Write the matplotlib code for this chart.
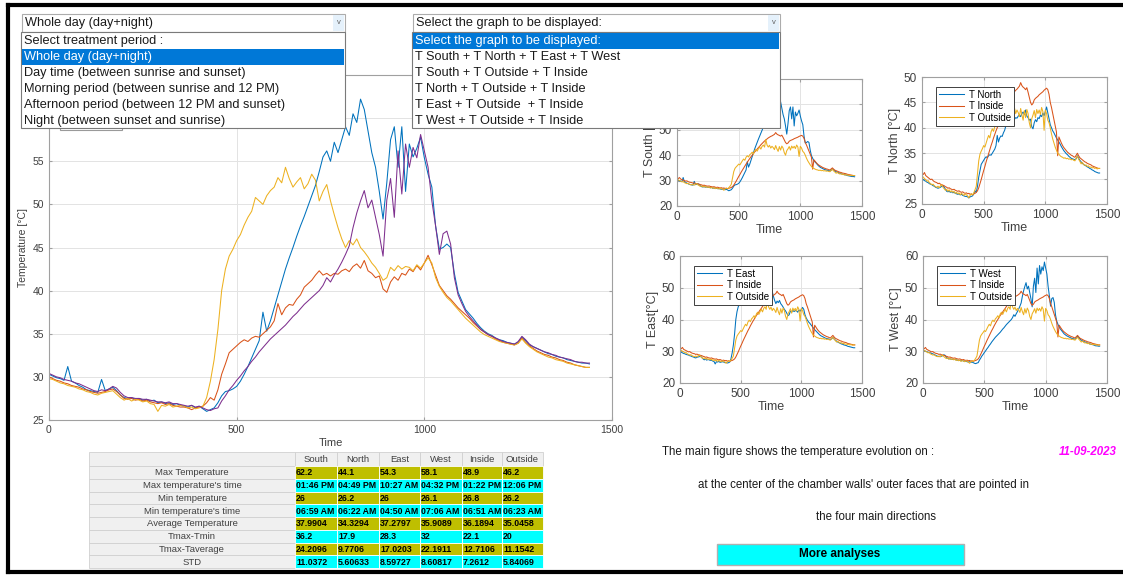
import numpy as np
import matplotlib
matplotlib.use('Agg')
import matplotlib.pyplot as plt
from matplotlib.patches import Rectangle

plt.rcParams['font.family'] = ['Liberation Sans', 'DejaVu Sans']

# Relevés toutes les 10 minutes (0 .. 1440 min)
time = np.arange(0, 1441, 10)

t_south = [
    30.3, 30.1, 29.9, 29.8, 29.6, 31.2, 29.5, 29.3, 29.0, 28.8, 28.5, 28.4,
    28.3, 28.2, 29.7, 28.4, 28.6, 28.8, 28.4, 27.9, 27.6, 27.5, 27.6, 27.4,
    27.5, 27.3, 27.4, 27.2, 27.3, 27.0, 27.1, 26.9, 27.0, 26.8, 26.9, 26.7,
    26.6, 26.5, 26.7, 26.4, 26.6, 26.3, 26.0, 26.2, 26.4, 27.0, 27.8, 28.3,
    28.4, 28.6, 28.9, 29.5, 30.3, 31.2, 32.2, 33.2, 34.2, 37.5, 35.3, 36.5,
    38.0, 39.5, 41.0, 42.5, 43.8, 45.0, 46.3, 47.5, 48.6, 49.8, 51.0, 52.2,
    53.8, 55.5, 56.2, 55.0, 57.2, 56.0, 57.5, 59.0, 58.0, 60.5, 59.5, 62.2,
    61.0, 58.5, 56.0, 54.3, 51.5, 48.3, 52.5, 57.5, 59.0, 54.3, 59.0, 51.5,
    57.0, 55.5, 56.5, 57.8, 55.4, 53.5, 52.0, 47.5, 44.8, 45.0, 45.4, 45.0,
    42.0, 39.8, 38.8, 37.8, 37.3, 36.8, 36.2, 35.7, 35.3, 35.0, 34.8, 34.5,
    34.3, 34.2, 34.0, 33.9, 33.8, 34.0, 34.6, 34.2, 33.7, 33.5, 33.3, 33.1,
    32.9, 32.7, 32.6, 32.4, 32.3, 32.2, 32.0, 31.9, 31.8, 31.7, 31.6, 31.6,
    31.5]

t_north = [
    30.0, 29.8, 29.6, 29.5, 29.3, 29.2, 29.0, 28.9, 28.8, 28.6, 28.5, 28.3,
    28.2, 28.1, 28.2, 28.3, 28.5, 28.6, 28.3, 27.9, 27.5, 27.4, 27.5, 27.3,
    27.4, 27.2, 27.3, 27.1, 27.0, 26.9, 27.0, 26.8, 26.9, 26.7, 26.6, 26.5,
    26.5, 26.4, 26.2, 26.4, 26.5, 26.6, 27.0, 27.6, 27.3, 28.5, 30.3, 31.5,
    32.8, 33.2, 33.6, 34.0, 34.3, 34.1, 34.5, 34.7, 34.6, 35.0, 35.4, 35.8,
    36.5, 38.5, 37.2, 38.0, 38.4, 38.3, 39.0, 39.5, 40.4, 40.8, 41.2, 41.8,
    42.3, 41.8, 42.0, 41.7, 42.0, 41.9, 42.3, 42.5, 42.2, 42.8, 43.1, 42.6,
    43.5, 42.3, 42.0, 41.5, 41.7, 40.2, 39.8, 41.0, 41.6, 41.2, 42.0, 41.8,
    42.5, 42.2, 42.9, 42.4, 43.2, 44.1, 43.0, 41.8, 40.6, 40.0, 39.4, 39.0,
    38.5, 38.0, 37.6, 37.2, 36.8, 36.3, 35.9, 35.5, 35.2, 34.9, 34.7, 34.4,
    34.2, 34.0, 33.9, 33.8, 33.7, 33.9, 34.5, 34.0, 33.6, 33.3, 33.0, 32.8,
    32.6, 32.5, 32.3, 32.2, 32.0, 31.9, 31.7, 31.6, 31.4, 31.3, 31.2, 31.1,
    31.1]

t_east = [
    29.8, 29.7, 29.5, 29.3, 29.2, 29.0, 28.9, 28.8, 28.6, 28.5, 28.3, 28.2,
    28.0, 27.9, 28.1, 28.2, 28.3, 28.4, 28.0, 27.6, 27.3, 27.5, 27.2, 27.4,
    27.3, 27.1, 27.2, 26.9, 26.8, 26.0, 26.7, 26.6, 26.8, 26.5, 26.6, 26.7,
    26.6, 26.4, 26.5, 26.3, 26.4, 26.6, 27.6, 29.5, 32.0, 35.5, 40.0, 42.5,
    44.0, 44.8, 45.8, 46.5, 47.6, 48.5, 49.2, 50.8, 50.4, 50.0, 51.0, 51.6,
    52.0, 53.1, 52.5, 54.3, 53.0, 52.0, 52.6, 53.1, 51.8, 52.4, 53.5, 52.8,
    50.4, 51.5, 52.3, 50.4, 48.8, 47.3, 46.0, 45.0, 45.8, 45.3, 46.0, 45.0,
    44.5, 43.9, 43.2, 42.7, 42.0, 41.2, 41.5, 42.7, 42.3, 42.9, 42.5, 42.8,
    42.7, 42.3, 43.0, 42.6, 43.2, 43.8, 43.2, 41.5, 40.5, 39.8, 39.2, 38.8,
    38.3, 37.8, 37.3, 36.8, 36.4, 36.0, 35.6, 35.2, 34.9, 34.7, 34.5, 34.3,
    34.1, 34.0, 33.9, 33.8, 33.7, 33.9, 34.4, 33.9, 33.5, 33.2, 32.9, 32.7,
    32.5, 32.3, 32.2, 32.0, 31.9, 31.8, 31.6, 31.5, 31.4, 31.3, 31.2, 31.1,
    31.1]

t_west = [
    30.4, 30.2, 30.0, 29.9, 29.7, 29.6, 29.5, 29.3, 29.2, 29.0, 28.8, 28.6,
    28.4, 28.3, 28.5, 28.4, 28.6, 28.9, 28.7, 28.2, 27.8, 27.6, 27.6, 27.5,
    27.5, 27.4, 27.4, 27.3, 27.2, 27.1, 27.1, 27.0, 27.1, 26.9, 26.9, 26.8,
    26.7, 26.6, 26.7, 26.5, 26.6, 26.4, 26.2, 26.1, 26.3, 26.4, 27.2, 27.8,
    28.5, 29.0, 29.6, 30.1, 30.7, 31.2, 31.8, 32.3, 32.9, 33.4, 33.9, 34.4,
    34.8, 35.2, 35.6, 36.0, 36.5, 37.0, 37.4, 37.9, 38.4, 38.8, 39.2, 39.6,
    40.0, 40.6, 41.5, 41.0, 41.8, 42.5, 43.3, 44.2, 45.2, 47.3, 49.0, 50.4,
    51.6, 49.6, 50.5, 48.5, 46.5, 44.0, 50.5, 53.0, 48.5, 56.2, 51.2, 57.0,
    54.3, 56.6, 55.4, 58.1, 56.2, 54.3, 50.4, 47.5, 44.2, 46.6, 46.9, 45.4,
    41.5, 39.5, 38.5, 37.6, 37.0, 36.5, 36.0, 35.5, 35.2, 34.9, 34.7, 34.5,
    34.3, 34.1, 34.0, 33.9, 33.8, 34.1, 34.7, 34.3, 33.8, 33.5, 33.3, 33.1,
    32.9, 32.8, 32.6, 32.5, 32.3, 32.2, 32.1, 32.0, 31.8, 31.7, 31.7, 31.6,
    31.6]

t_inside = [
    31.0, 30.8, 31.2, 30.6, 30.4, 30.2, 30.0, 29.8, 29.9, 29.6, 29.4, 29.3,
    29.2, 29.0, 29.1, 28.9, 28.8, 28.7, 28.6, 28.4, 28.3, 28.1, 28.2, 28.0,
    27.9, 27.8, 27.9, 27.7, 27.6, 27.5, 27.6, 27.4, 27.3, 27.4, 27.2, 27.1,
    27.2, 27.0, 27.1, 26.9, 27.0, 26.8, 27.0, 27.1, 27.3, 27.6, 28.2, 29.0,
    29.8, 30.7, 31.6, 32.4, 33.3, 34.1, 34.9, 35.7, 36.5, 37.2, 38.0, 38.7,
    39.4, 40.0, 40.7, 41.3, 41.8, 42.4, 43.0, 43.5, 44.1, 44.6, 45.1, 45.6,
    46.0, 46.4, 46.8, 47.1, 47.4, 47.6, 47.9, 48.2, 48.9, 48.3, 48.0, 47.8,
    47.5, 47.9, 47.0, 46.0, 45.0, 44.5, 44.8, 45.5, 45.8, 46.0, 46.2, 46.5,
    46.7, 46.9, 47.1, 47.4, 47.6, 47.8, 47.5, 46.6, 45.0, 44.0, 42.8, 41.5,
    40.5, 39.2, 34.5, 38.2, 37.6, 37.0, 36.5, 36.1, 35.8, 35.5, 35.2, 35.0,
    34.8, 34.6, 34.5, 34.3, 34.2, 34.6, 35.0, 34.5, 34.1, 33.9, 33.7, 33.5,
    33.3, 33.2, 33.0, 32.9, 32.8, 32.7, 32.5, 32.4, 32.3, 32.2, 32.1, 32.0,
    32.0]

t_outside = [
    30.5, 30.3, 30.0, 29.8, 29.5, 29.6, 29.2, 29.0, 28.8, 28.9, 28.6, 28.4,
    28.3, 28.5, 28.2, 28.6, 28.8, 28.3, 28.0, 27.7, 27.9, 27.5, 27.8, 27.4,
    27.6, 27.3, 27.5, 27.1, 27.3, 27.0, 27.2, 26.8, 27.1, 26.9, 26.7, 27.0,
    26.8, 26.6, 26.2, 26.7, 27.0, 26.8, 27.2, 27.8, 28.5, 31.0, 33.5, 34.8,
    35.4, 35.9, 36.5, 36.2, 37.0, 37.8, 38.5, 38.0, 39.2, 39.8, 39.3, 40.2,
    40.6, 41.2, 40.5, 41.8, 42.3, 41.6, 42.5, 43.2, 42.4, 43.5, 44.0, 43.2,
    46.2, 44.0, 43.2, 43.9, 42.8, 43.5, 43.0, 42.2, 43.8, 42.5, 41.5, 43.4,
    42.0, 43.6, 42.8, 41.0, 40.0, 41.8, 42.5, 43.4, 42.0, 43.6, 42.8, 43.5,
    42.6, 44.0, 43.2, 39.5, 43.5, 42.8, 41.5, 41.0, 40.0, 38.8, 37.8, 37.0,
    36.2, 35.6, 35.0, 34.8, 34.5, 34.3, 34.2, 34.0, 34.1, 33.9, 34.0, 33.8,
    33.9, 33.7, 33.8, 33.6, 33.5, 34.0, 34.4, 33.8, 33.4, 32.9, 33.2, 32.8,
    32.6, 32.7, 32.4, 32.5, 32.2, 32.3, 32.1, 32.2, 32.0, 32.1, 31.9, 32.0,
    32.0]

# Tableau des statistiques
col_names = ['South', 'North', 'East', 'West', 'Inside', 'Outside']
row_names = ['Max Temperature', "Max temperature's time", 'Min temperature',
             "Min temperature's time", 'Average Temperature', 'Tmax-Tmin',
             'Tmax-Taverage', 'STD']
max_temp = ['62.2', '44.1', '54.3', '58.1', '48.9', '46.2']
max_time = ['01:46 PM', '04:49 PM', '10:27 AM', '04:32 PM', '01:22 PM', '12:06 PM']
min_temp = ['26', '26.2', '26', '26.1', '26.8', '26.2']
min_time = ['06:59 AM', '06:22 AM', '04:50 AM', '07:06 AM', '06:51 AM', '06:23 AM']
avg_temp = ['37.9904', '34.3294', '37.2797', '35.9089', '36.1894', '35.0458']
tmax_tmin = ['36.2', '17.9', '28.3', '32', '22.1', '20']
tmax_tavg = ['24.2096', '9.7706', '17.0203', '22.1911', '12.7106', '11.1542']
std_vals = ['11.0372', '5.60633', '8.59727', '8.60817', '7.2612', '5.84069']
table_rows = [max_temp, max_time, min_temp, min_time, avg_temp, tmax_tmin, tmax_tavg, std_vals]

period_items = ['Select treatment period :', 'Whole day (day+night)',
                'Day time (between sunrise and sunset)',
                'Morning period (between sunrise and 12 PM)',
                'Afternoon period (between 12 PM and sunset)',
                'Night (between sunset and sunrise)']
graph_items = ['Select the graph to be displayed:',
               'T South + T North + T East + T West',
               'T South + T Outside + T Inside',
               'T North + T Outside + T Inside',
               'T East + T Outside  + T Inside',
               'T West + T Outside + T Inside']

C_BLUE, C_ORANGE, C_YELLOW, C_PURPLE = '#0072BD', '#D95319', '#EDB120', '#7E2F8E'
W, H = 1123, 575


def px_axes(fig, x0, y0, x1, y1):
    return fig.add_axes([x0 / W, 1 - y1 / H, (x1 - x0) / W, (y1 - y0) / H])


def matlab_style(ax, fs):
    ax.grid(True, color='#E3E3E3', linewidth=0.7)
    ax.set_axisbelow(True)
    for s in ax.spines.values():
        s.set_color('#A0A0A0')
        s.set_linewidth(0.8)
    ax.tick_params(direction='in', length=2.5, labelsize=fs, colors='#A0A0A0',
                   labelcolor='#404040', top=True, right=True,
                   labeltop=False, labelright=False)


fig = plt.figure(figsize=(W / 100, H / 100), dpi=100)
fig.patch.set_facecolor('white')

# Figure principale
ax = px_axes(fig, 49, 75, 612, 420)
ax.plot(time, t_south, color=C_BLUE, lw=0.75)
ax.plot(time, t_north, color=C_ORANGE, lw=0.75)
ax.plot(time, t_east, color=C_YELLOW, lw=0.75)
ax.plot(time, t_west, color=C_PURPLE, lw=0.75)
ax.set_xlim(0, 1500)
ax.set_ylim(25, 65)
ax.set_xticks([0, 500, 1000, 1500])
# 60 et 65 sont cachés derrière la liste déroulante
ax.set_yticks([25, 30, 35, 40, 45, 50, 55, 60, 65],
              ['25', '30', '35', '40', '45', '50', '55', '', ''])
matlab_style(ax, 7.5)
ax.set_xlabel('Time', fontsize=8, color='#404040', labelpad=2)
ax.set_ylabel('Temperature [°C]', fontsize=7.5, color='#404040', labelpad=3)

# Petites figures
small = [
    ((677, 79, 862, 206), t_south, 'T South', 'T South [°C]', (20, 70), [20, 30, 40, 50, 60, 70]),
    ((922, 77, 1107, 204), t_north, 'T North', 'T North [°C]', (25, 50), [25, 30, 35, 40, 45, 50]),
    ((680, 256, 862, 383), t_east, 'T East', 'T East[°C]', (20, 60), [20, 30, 40, 50, 60]),
    ((923, 256, 1107, 383), t_west, 'T West', 'T West [°C]', (20, 60), [20, 30, 40, 50, 60]),
]
for box, wall, name, ylab, ylim, yt in small:
    a = px_axes(fig, *box)
    a.plot(time, wall, color=C_BLUE, lw=0.75, label=name)
    a.plot(time, t_inside, color=C_ORANGE, lw=0.75, label='T Inside')
    a.plot(time, t_outside, color=C_YELLOW, lw=0.75, label='T Outside')
    a.set_xlim(0, 1500)
    a.set_ylim(*ylim)
    a.set_xticks([0, 500, 1000, 1500])
    a.set_yticks(yt)
    matlab_style(a, 8.5)
    a.set_xlabel('Time', fontsize=9, color='#404040', labelpad=1)
    a.set_ylabel(ylab, fontsize=9, color='#404040', labelpad=2)
    leg = a.legend(loc='upper left', bbox_to_anchor=(0.05, 0.96), fontsize=7,
                   frameon=True, fancybox=False, framealpha=1, borderpad=0.3,
                   labelspacing=0.15, handlelength=2.6, handletextpad=0.5)
    leg.get_frame().set_edgecolor('#404040')
    leg.get_frame().set_linewidth(0.7)

# Couche d'interface (pixels)
ov = fig.add_axes([0, 0, 1, 1], zorder=10)
ov.set_xlim(0, W)
ov.set_ylim(H, 0)
ov.axis('off')
ov.patch.set_alpha(0)

# cadre noir
ov.plot([8, 8], [5, 572], color='black', lw=3)
ov.plot([8, W], [5, 5], color='black', lw=3)
ov.plot([8, W], [572, 572], color='black', lw=3)

# reste d'un bouton caché
ov.add_patch(Rectangle((60, 118), 62, 12, fc='white', ec='#9A9A9A', lw=0.8))


def dropdown(x0, x1, header, items, fs):
    ov.add_patch(Rectangle((x0, 14), x1 - x0, 18, fc='white', ec='#ACACAC', lw=0.8))
    ov.add_patch(Rectangle((x1 - 12, 15), 11, 16, fc='#E5F1FB', ec='none'))
    ov.text(x1 - 6.5, 22, 'v', fontsize=5.5, color='#606060', ha='center', va='center')
    ov.text(x0 + 3, 23, header, fontsize=fs, color='#1A1A1A', va='center')
    ov.add_patch(Rectangle((x0 - 1, 32), x1 - x0 + 1, 96, fc='white', ec='#7A7A7A', lw=0.8))
    for i, item in enumerate(items):
        yc = 40.5 + 16 * i
        col = '#1A1A1A'
        if item == header:
            ov.add_patch(Rectangle((x0, yc - 8), x1 - x0 - 1, 16, fc='#0078D7', ec='none'))
            col = 'white'
        ov.text(x0 + 2, yc + 0.5, item, fontsize=fs, color=col, va='center')


dropdown(22, 345, period_items[1], period_items, 9.2)
dropdown(413, 780, graph_items[0], graph_items, 9.2)

# Tableau
tx0, tx_lab = 89, 295
col_w = [42, 42, 41, 42, 40, 41]
ty0, head_h, row_h = 452, 14, 12.75
ov.add_patch(Rectangle((tx0, ty0), tx_lab - tx0, head_h, fc='#F0F0F0', ec='#D0D0D0', lw=0.6))
x = tx_lab
for j, name in enumerate(col_names):
    ov.add_patch(Rectangle((x, ty0), col_w[j], head_h, fc='#F0F0F0', ec='#D0D0D0', lw=0.6))
    ov.text(x + col_w[j] / 2, ty0 + head_h / 2 + 0.5, name, fontsize=6.8, color='#404040',
            ha='center', va='center')
    x += col_w[j]
for i, (rname, vals) in enumerate(zip(row_names, table_rows)):
    y = ty0 + head_h + i * row_h
    ov.add_patch(Rectangle((tx0, y), tx_lab - tx0, row_h, fc='#F0F0F0', ec='#D0D0D0', lw=0.6))
    ov.text((tx0 + tx_lab) / 2, y + row_h / 2 + 0.5, rname, fontsize=6.8, color='#404040',
            ha='center', va='center')
    bg = '#BFBF00' if i % 2 == 0 else '#00FFFF'
    x = tx_lab
    for j, v in enumerate(vals):
        ov.add_patch(Rectangle((x, y), col_w[j], row_h, fc=bg, ec='white', lw=0.6))
        ov.text(x + 1, y + row_h / 2 + 0.5, v, fontsize=6.3, fontweight='bold', color='black',
                ha='left', va='center')
        x += col_w[j]

# Textes en bas à droite
ov.text(662, 452, 'The main figure shows the temperature evolution on :', fontsize=8.3,
        color='#1A1A1A', va='center')
ov.text(1117, 452, '11-09-2023', fontsize=8.3, color='#FF00FF', fontweight='bold',
        style='italic', ha='right', va='center')
ov.text(864, 485, "at the center of the chamber walls' outer faces that are pointed in",
        fontsize=8.3, color='#1A1A1A', ha='center', va='center')
ov.text(876, 517, 'the four main directions', fontsize=8.3, color='#1A1A1A',
        ha='center', va='center')
ov.add_patch(Rectangle((717, 544), 247, 21, fc='#00FFFF', ec='#B0B0B0', lw=1))
ov.text(840, 554.5, 'More analyses', fontsize=8.5, fontweight='bold', color='black',
        ha='center', va='center')

fig.savefig('out.png', dpi=100)
